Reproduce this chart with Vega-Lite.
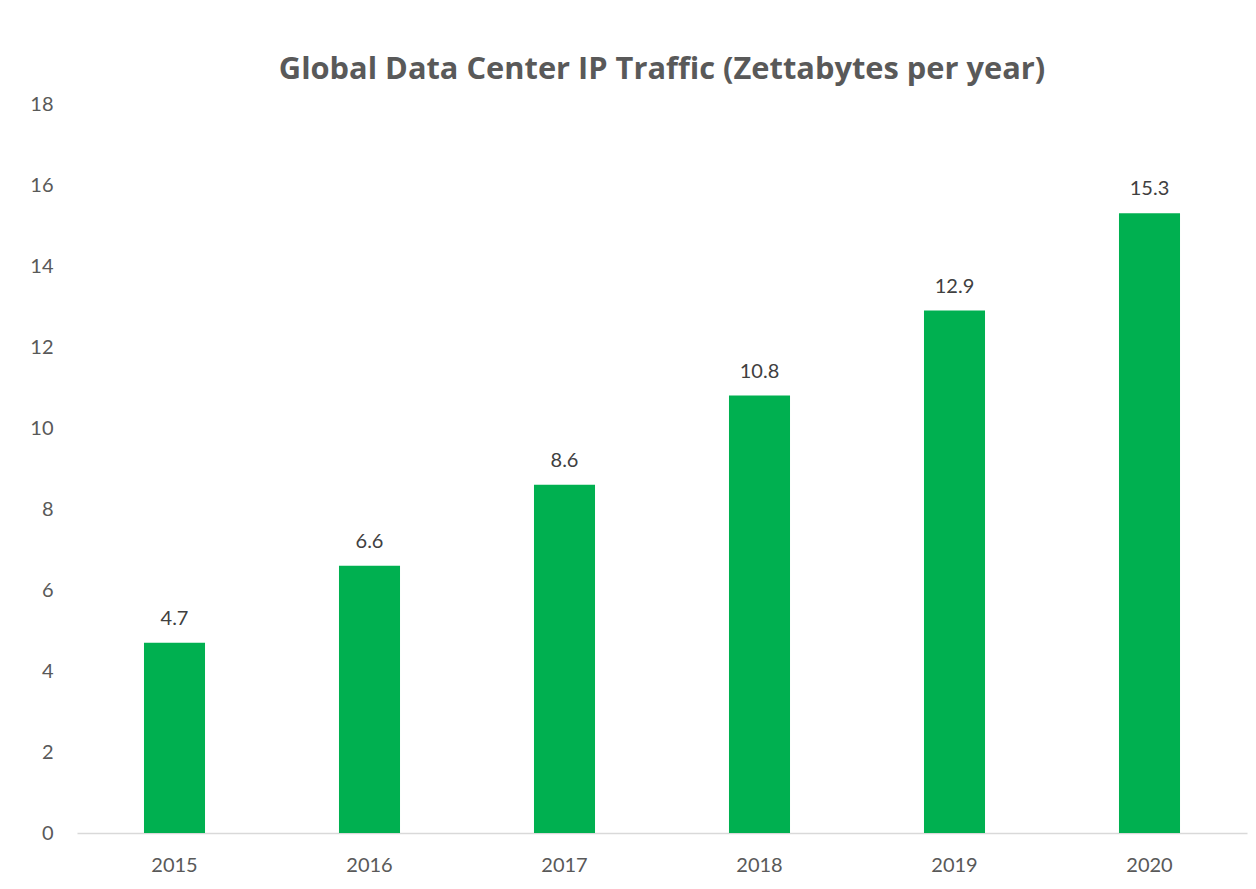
{
  "$schema": "https://vega.github.io/schema/vega-lite/v6.json",
  "autosize": {"type": "none"},
  "width": 1170,
  "height": 729,
  "padding": {"left": 77, "top": 104, "right": 9, "bottom": 56},
  "background": "white",
  "config": {"view": {"stroke": null}, "font": "Lato"},
  "title": {
    "text": "Global Data Center IP Traffic (Zettabytes per year)",
    "font": "Open Sans",
    "fontSize": 30.8,
    "fontWeight": "bold",
    "color": "#595959",
    "anchor": "middle",
    "baseline": "alphabetic",
    "offset": 25,
    "dy": 41
  },
  "data": {
    "values": [
      {"year": "2015", "traffic": 4.7},
      {"year": "2016", "traffic": 6.6},
      {"year": "2017", "traffic": 8.6},
      {"year": "2018", "traffic": 10.8},
      {"year": "2019", "traffic": 12.9},
      {"year": "2020", "traffic": 15.3}
    ]
  },
  "encoding": {
    "x": {
      "field": "year",
      "type": "ordinal",
      "scale": {"paddingInner": 0.687, "paddingOuter": 0.3435},
      "axis": {
        "title": null,
        "labelAngle": 0,
        "labelFont": "Lato",
        "labelFontSize": 20,
        "labelColor": "#595959",
        "ticks": false,
        "domainColor": "#d9d9d9",
        "domainWidth": 1.5,
        "labelPadding": 22,
        "grid": false
      }
    },
    "y": {
      "field": "traffic",
      "type": "quantitative",
      "scale": {"domain": [0, 18], "nice": false},
      "axis": {
        "title": null,
        "values": [0, 2, 4, 6, 8, 10, 12, 14, 16, 18],
        "labelFont": "Lato",
        "labelFontSize": 20,
        "labelColor": "#595959",
        "ticks": false,
        "domain": false,
        "grid": false,
        "labelPadding": 24
      }
    }
  },
  "layer": [
    {"mark": {"type": "bar", "color": "#00B050"}},
    {
      "mark": {"type": "text", "baseline": "alphabetic", "dy": -18, "font": "Lato", "fontSize": 20, "color": "#404040"},
      "encoding": {"text": {"field": "traffic", "type": "quantitative", "format": ".1f"}}
    }
  ]
}
